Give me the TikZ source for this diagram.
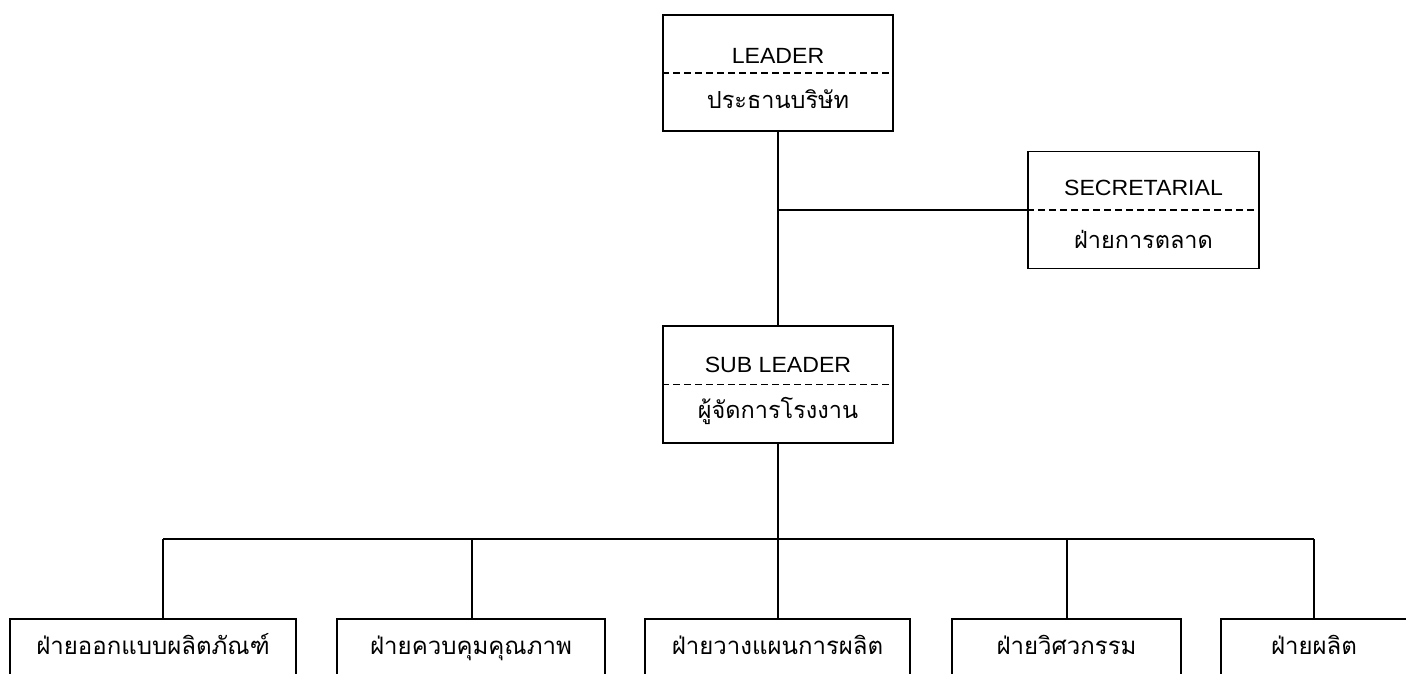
\documentclass[tikz,border=0pt]{standalone}
\usepackage{fontspec}
\setmainfont[FakeStretch=1.05]{Liberation Sans}
\newfontfamily\thai[Script=Thai]{Loma}
\tikzset{
  frame/.style={draw, line width=1.7pt, inner sep=0pt},
  lbl/.style={anchor=base, inner sep=0pt, font=\fontsize{22}{25}\selectfont},
  thlbl/.style={anchor=base, inner sep=0pt, font=\thai\fontsize{23.5}{26}\selectfont},
  divider/.style={line width=1.5pt, dash pattern=on 7pt off 4pt},
  conn/.style={line width=1.7pt},
  leaf/.style={draw, line width=1.7pt, anchor=north, inner xsep=0pt, inner ysep=0pt,
    text height=36pt, text depth=70pt, font=\thai\fontsize{24}{27}\selectfont}
}
\begin{document}
\begin{tikzpicture}[x=1pt,y=-1pt]
\useasboundingbox (0,0) rectangle (1406,673);
\clip (0,0) rectangle (1406,673);
\fill[white] (0,0) rectangle (1406,673);

% top boxes
\node[frame, minimum width=230pt, minimum height=116pt] (leader) at (778,73) {};
\draw[divider] (leader.west) -- (leader.east);
\node[lbl] (leaderA) at (778,63) {LEADER};
\node[thlbl] (leaderB) at (778,108) {ประธานบริษัท};

\node[frame, minimum width=231pt, minimum height=117pt] (sec) at (1143.5,210) {};
\draw[divider] (sec.west) -- (sec.east);
\node[lbl] (secA) at (1143.5,195) {SECRETARIAL};
\node[thlbl] (secB) at (1143.5,248) {ฝ่ายการตลาด};

\node[frame, minimum width=230pt, minimum height=117pt] (sub) at (778,384.5) {};
\draw[divider] (sub.west) -- (sub.east);
\node[lbl] (subA) at (778,372) {SUB LEADER};
\node[thlbl] (subB) at (778,418) {ผู้จัดการโรงงาน};

% bottom boxes
\node[leaf, minimum width=286pt] (b1) at (153,618) {ฝ่ายออกแบบผลิตภัณฑ์};
\node[leaf, minimum width=268pt] (b2) at (471,618) {ฝ่ายควบคุมคุณภาพ};
\node[leaf, minimum width=265pt] (b3) at (777.5,618) {ฝ่ายวางแผนการผลิต};
\node[leaf, minimum width=229pt] (b4) at (1066.5,618) {ฝ่ายวิศวกรรม};
\node[leaf, minimum width=186pt] (b5) at (1314,618) {ฝ่ายผลิต};

% connectors
\coordinate (j1) at (778,210);
\draw[conn] (leader.south) -- (sub.north);
\draw[conn] (j1) -- (sec.west);

\coordinate (s1) at (163,539);
\coordinate (s2) at (472,539);
\coordinate (s3) at (778,539);
\coordinate (s4) at (1067,539);
\coordinate (s5) at (1314,539);
\draw[conn] (sub.south) -- (s3);
\draw[conn] (s1) -- (s5);
\draw[conn] (s1) -- (s1 |- b1.north);
\draw[conn] (s2) -- (s2 |- b2.north);
\draw[conn] (s3) -- (s3 |- b3.north);
\draw[conn] (s4) -- (s4 |- b4.north);
\draw[conn] (s5) -- (s5 |- b5.north);
\end{tikzpicture}
\end{document}
